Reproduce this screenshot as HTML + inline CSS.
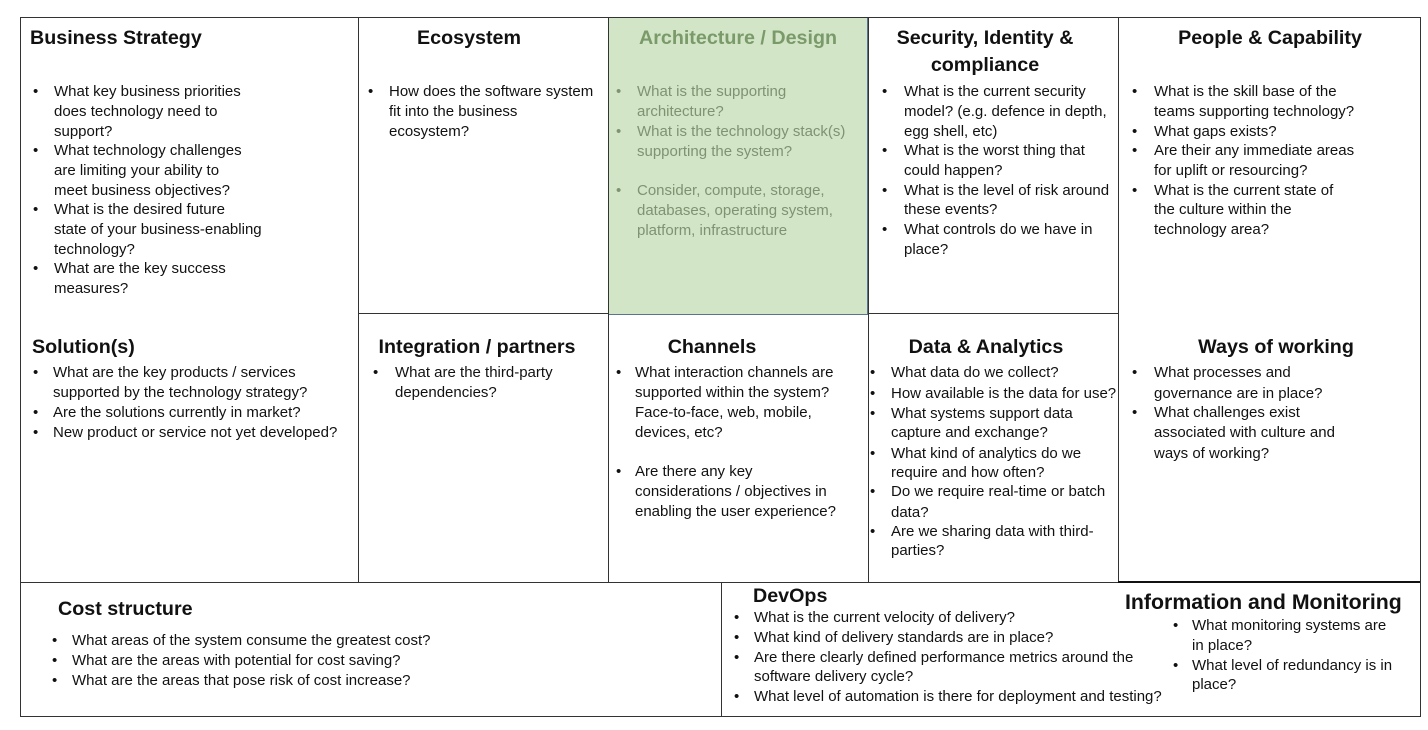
<!DOCTYPE html>
<html><head><meta charset="utf-8"><style>
body{margin:0;width:1428px;height:730px;background:#fff;position:relative;overflow:hidden;font-family:"Liberation Sans",sans-serif;color:#111}
.l{position:absolute;background:#333}
.t{position:absolute;font-weight:bold;font-size:19.7px;white-space:nowrap;line-height:20px;margin-top:-10px}
.c{transform:translateX(-50%)}
.x{position:absolute;font-size:15px;white-space:nowrap;line-height:14px;margin-top:-7px}
.g{color:#7f9272}
</style></head><body>
<div style="position:absolute;left:608px;top:17px;width:260px;height:298px;background:#d2e5c7;border:1px solid #5a7390;box-sizing:border-box"></div>
<div class="l" style="left:20px;top:17px;width:1400px;height:1px"></div>
<div class="l" style="left:20px;top:716px;width:1400px;height:1px"></div>
<div class="l" style="left:20px;top:17px;width:1px;height:700px"></div>
<div class="l" style="left:1420px;top:17px;width:1px;height:700px"></div>
<div class="l" style="left:358px;top:17px;width:1px;height:565px"></div>
<div class="l" style="left:608px;top:17px;width:1px;height:565px"></div>
<div class="l" style="left:868px;top:17px;width:1px;height:565px"></div>
<div class="l" style="left:1118px;top:17px;width:1px;height:565px"></div>
<div class="l" style="left:358px;top:313px;width:250px;height:1px"></div>
<div class="l" style="left:868px;top:313px;width:250px;height:1px"></div>
<div class="l" style="left:20px;top:582px;width:1400px;height:1px"></div>
<div class="l" style="left:1118px;top:581px;width:302px;height:2px;background:#111"></div>
<div class="l" style="left:721px;top:582px;width:1px;height:134px"></div>

<div class="t" style="left:30px;top:38px">Business Strategy</div>
<div class="t c" style="left:469px;top:38px">Ecosystem</div>
<div class="t c" style="left:738px;top:38px;color:#7a9a6a">Architecture / Design</div>
<div class="t c" style="left:985px;top:38px">Security, Identity &amp;</div>
<div class="t c" style="left:985px;top:65px">compliance</div>
<div class="t c" style="left:1270px;top:38px">People &amp; Capability</div>
<div class="t" style="left:32px;top:347px">Solution(s)</div>
<div class="t c" style="left:477px;top:347px">Integration / partners</div>
<div class="t c" style="left:712px;top:347px">Channels</div>
<div class="t c" style="left:986px;top:347px">Data &amp; Analytics</div>
<div class="t c" style="left:1276px;top:347px">Ways of working</div>
<div class="t" style="left:58px;top:609px">Cost structure</div>
<div class="t" style="left:753px;top:596px">DevOps</div>
<div class="t" style="left:1125px;top:602px;font-size:21.3px">Information and Monitoring</div>

<!-- Business Strategy -->
<div class="x" style="left:33px;top:92px">•</div><div class="x" style="left:54px;top:92px">What key business priorities</div>
<div class="x" style="left:54px;top:112px">does technology need to</div>
<div class="x" style="left:54px;top:132px">support?</div>
<div class="x" style="left:33px;top:151px">•</div><div class="x" style="left:54px;top:151px">What technology challenges</div>
<div class="x" style="left:54px;top:171px">are limiting your ability to</div>
<div class="x" style="left:54px;top:191px">meet business objectives?</div>
<div class="x" style="left:33px;top:210px">•</div><div class="x" style="left:54px;top:210px">What is the desired future</div>
<div class="x" style="left:54px;top:230px">state of your business-enabling</div>
<div class="x" style="left:54px;top:250px">technology?</div>
<div class="x" style="left:33px;top:269px">•</div><div class="x" style="left:54px;top:269px">What are the key success</div>
<div class="x" style="left:54px;top:289px">measures?</div>
<!-- Ecosystem -->
<div class="x" style="left:368px;top:92px">•</div><div class="x" style="left:389px;top:92px">How does the software system</div>
<div class="x" style="left:389px;top:112px">fit into the business</div>
<div class="x" style="left:389px;top:132px">ecosystem?</div>
<!-- Arch -->
<div class="x g" style="left:616px;top:92px">•</div><div class="x g" style="left:637px;top:92px">What is the supporting</div>
<div class="x g" style="left:637px;top:112px">architecture?</div>
<div class="x g" style="left:616px;top:132px">•</div><div class="x g" style="left:637px;top:132px">What is the technology stack(s)</div>
<div class="x g" style="left:637px;top:152px">supporting the system?</div>
<div class="x g" style="left:616px;top:191px">•</div><div class="x g" style="left:637px;top:191px">Consider, compute, storage,</div>
<div class="x g" style="left:637px;top:211px">databases, operating system,</div>
<div class="x g" style="left:637px;top:231px">platform, infrastructure</div>
<!-- Security -->
<div class="x" style="left:882px;top:92px">•</div><div class="x" style="left:904px;top:92px">What is the current security</div>
<div class="x" style="left:904px;top:112px">model? (e.g. defence in depth,</div>
<div class="x" style="left:904px;top:132px">egg shell, etc)</div>
<div class="x" style="left:882px;top:151px">•</div><div class="x" style="left:904px;top:151px">What is the worst thing that</div>
<div class="x" style="left:904px;top:171px">could happen?</div>
<div class="x" style="left:882px;top:191px">•</div><div class="x" style="left:904px;top:191px">What is the level of risk around</div>
<div class="x" style="left:904px;top:210px">these events?</div>
<div class="x" style="left:882px;top:230px">•</div><div class="x" style="left:904px;top:230px">What controls do we have in</div>
<div class="x" style="left:904px;top:250px">place?</div>
<!-- People -->
<div class="x" style="left:1132px;top:92px">•</div><div class="x" style="left:1154px;top:92px">What is the skill base of the</div>
<div class="x" style="left:1154px;top:112px">teams supporting technology?</div>
<div class="x" style="left:1132px;top:132px">•</div><div class="x" style="left:1154px;top:132px">What gaps exists?</div>
<div class="x" style="left:1132px;top:151px">•</div><div class="x" style="left:1154px;top:151px">Are their any immediate areas</div>
<div class="x" style="left:1154px;top:171px">for uplift or resourcing?</div>
<div class="x" style="left:1132px;top:191px">•</div><div class="x" style="left:1154px;top:191px">What is the current state of</div>
<div class="x" style="left:1154px;top:210px">the culture within the</div>
<div class="x" style="left:1154px;top:230px">technology area?</div>
<!-- Solutions -->
<div class="x" style="left:33px;top:373px">•</div><div class="x" style="left:53px;top:373px">What are the key products / services</div>
<div class="x" style="left:53px;top:393px">supported by the technology strategy?</div>
<div class="x" style="left:33px;top:413px">•</div><div class="x" style="left:53px;top:413px">Are the solutions currently in market?</div>
<div class="x" style="left:33px;top:433px">•</div><div class="x" style="left:53px;top:433px">New product or service not yet developed?</div>
<!-- Integration -->
<div class="x" style="left:373px;top:373px">•</div><div class="x" style="left:395px;top:373px">What are the third-party</div>
<div class="x" style="left:395px;top:393px">dependencies?</div>
<!-- Channels -->
<div class="x" style="left:616px;top:373px">•</div><div class="x" style="left:635px;top:373px">What interaction channels are</div>
<div class="x" style="left:635px;top:393px">supported within the system?</div>
<div class="x" style="left:635px;top:413px">Face-to-face, web, mobile,</div>
<div class="x" style="left:635px;top:433px">devices, etc?</div>
<div class="x" style="left:616px;top:472px">•</div><div class="x" style="left:635px;top:472px">Are there any key</div>
<div class="x" style="left:635px;top:492px">considerations / objectives in</div>
<div class="x" style="left:635px;top:512px">enabling the user experience?</div>
<!-- Data -->
<div class="x" style="left:870px;top:373px">•</div><div class="x" style="left:891px;top:373px">What data do we collect?</div>
<div class="x" style="left:870px;top:394px">•</div><div class="x" style="left:891px;top:394px">How available is the data for use?</div>
<div class="x" style="left:870px;top:414px">•</div><div class="x" style="left:891px;top:414px">What systems support data</div>
<div class="x" style="left:891px;top:433px">capture and exchange?</div>
<div class="x" style="left:870px;top:454px">•</div><div class="x" style="left:891px;top:454px">What kind of analytics do we</div>
<div class="x" style="left:891px;top:473px">require and how often?</div>
<div class="x" style="left:870px;top:492px">•</div><div class="x" style="left:891px;top:492px">Do we require real-time or batch</div>
<div class="x" style="left:891px;top:513px">data?</div>
<div class="x" style="left:870px;top:532px">•</div><div class="x" style="left:891px;top:532px">Are we sharing data with third-</div>
<div class="x" style="left:891px;top:551px">parties?</div>
<!-- Ways -->
<div class="x" style="left:1132px;top:373px">•</div><div class="x" style="left:1154px;top:373px">What processes and</div>
<div class="x" style="left:1154px;top:394px">governance are in place?</div>
<div class="x" style="left:1132px;top:413px">•</div><div class="x" style="left:1154px;top:413px">What challenges exist</div>
<div class="x" style="left:1154px;top:433px">associated with culture and</div>
<div class="x" style="left:1154px;top:454px">ways of working?</div>
<!-- Cost -->
<div class="x" style="left:52px;top:641px">•</div><div class="x" style="left:72px;top:641px">What areas of the system consume the greatest cost?</div>
<div class="x" style="left:52px;top:661px">•</div><div class="x" style="left:72px;top:661px">What are the areas with potential for cost saving?</div>
<div class="x" style="left:52px;top:681px">•</div><div class="x" style="left:72px;top:681px">What are the areas that pose risk of cost increase?</div>
<!-- DevOps -->
<div class="x" style="left:734px;top:618px">•</div><div class="x" style="left:754px;top:618px">What is the current velocity of delivery?</div>
<div class="x" style="left:734px;top:638px">•</div><div class="x" style="left:754px;top:638px">What kind of delivery standards are in place?</div>
<div class="x" style="left:734px;top:658px">•</div><div class="x" style="left:754px;top:658px">Are there clearly defined performance metrics around the</div>
<div class="x" style="left:754px;top:677px">software delivery cycle?</div>
<div class="x" style="left:734px;top:697px">•</div><div class="x" style="left:754px;top:697px">What level of automation is there for deployment and testing?</div>
<!-- Info -->
<div class="x" style="left:1173px;top:626px">•</div><div class="x" style="left:1192px;top:626px">What monitoring systems are</div>
<div class="x" style="left:1192px;top:646px">in place?</div>
<div class="x" style="left:1173px;top:666px">•</div><div class="x" style="left:1192px;top:666px">What level of redundancy is in</div>
<div class="x" style="left:1192px;top:685px">place?</div>
</body></html>
